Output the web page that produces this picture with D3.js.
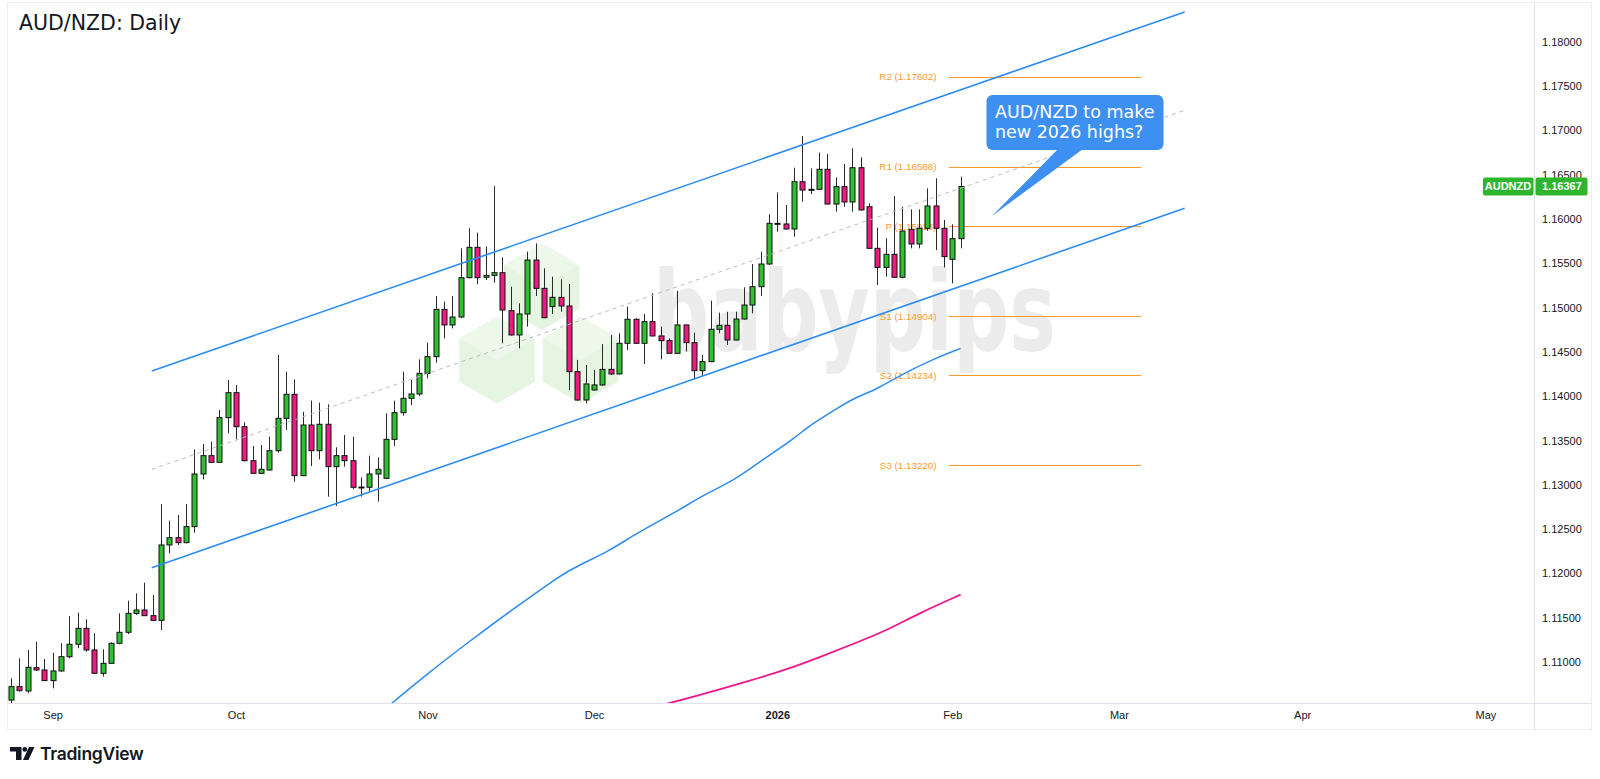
<!DOCTYPE html>
<html><head><meta charset="utf-8">
<script src="https://cdn.jsdelivr.net/npm/d3@7/dist/d3.min.js"></script>
<style>html,body{margin:0;padding:0;background:#fff;} svg{display:block;}</style>
</head><body>
<svg id="chart" width="1600" height="779"></svg>
<script>
// ---------------- DATA ----------------
const title = "AUD/NZD: Daily";
const symbol = "AUDNZD";
const lastPrice = 1.16367;

const opens = [1.10570,1.10722,1.10673,1.10936,1.10910,1.10790,1.10899,1.11060,1.11200,1.11380,
1.11136,1.10872,1.10985,1.11211,1.11335,1.11549,1.11587,1.11523,1.11470,1.12321,
1.12403,1.12347,1.12528,1.13122,1.13329,1.13254,1.13758,1.14040,1.13656,1.13272,
1.13129,1.13167,1.13385,1.13750,1.14021,1.13103,1.13675,1.13385,1.13683,1.13205,
1.13329,1.13272,1.12975,1.12972,1.13122,1.13073,1.13513,1.13814,1.13976,1.14025,
1.14258,1.14446,1.14980,1.14804,1.14894,1.15338,1.15680,1.15342,1.15364,1.15394,
1.14965,1.14691,1.14928,1.15537,1.15217,1.15011,1.15116,1.15018,1.14277,1.13957,
1.14070,1.14127,1.14303,1.14251,1.14597,1.14868,1.14597,1.14841,1.14680,1.14627,
1.14484,1.14804,1.14604,1.14288,1.14390,1.14755,1.14800,1.14634,1.14871,1.15029,
1.15236,1.15492,1.15951,1.15944,1.15887,1.16421,1.16335,1.16335,1.16561,1.16169,
1.16365,1.16192,1.16579,1.16139,1.15669,1.15454,1.15601,1.15342,1.15883,1.15718,
1.15895,1.16147,1.15895,1.15545,1.15778];
const highs = [1.10816,1.11042,1.11135,1.11230,1.11034,1.11106,1.11211,1.11519,1.11557,1.11482,
1.11324,1.11144,1.11222,1.11549,1.11692,1.11775,1.11896,1.11756,1.12783,1.12595,
1.12659,1.12783,1.13400,1.13461,1.13487,1.13844,1.14183,1.14127,1.13705,1.13438,
1.13449,1.13543,1.14465,1.14277,1.14190,1.13825,1.13950,1.13927,1.13908,1.13423,
1.13562,1.13543,1.13084,1.13329,1.13310,1.13807,1.13950,1.14277,1.14183,1.14416,
1.14604,1.15131,1.15067,1.15131,1.15669,1.15895,1.15846,1.15688,1.16372,1.15567,
1.15236,1.15048,1.15631,1.15725,1.15443,1.15349,1.15319,1.15266,1.14409,1.14352,
1.14296,1.14589,1.14691,1.14710,1.15011,1.14879,1.14928,1.15161,1.14785,1.14653,
1.15191,1.14810,1.14717,1.14465,1.15078,1.14943,1.14954,1.14954,1.15229,1.15492,
1.15631,1.16053,1.16300,1.16158,1.16579,1.16937,1.16572,1.16749,1.16734,1.16470,
1.16621,1.16798,1.16696,1.16177,1.15902,1.15782,1.16260,1.16139,1.16109,1.16109,
1.16346,1.16459,1.15989,1.15940,1.16478];
const lows = [1.10500,1.10665,1.10647,1.10899,1.10786,1.10703,1.10890,1.11042,1.11155,1.11117,
1.10865,1.10835,1.10980,1.11200,1.11316,1.11531,1.11519,1.11465,1.11361,1.12227,
1.12321,1.12340,1.12460,1.13062,1.13250,1.13250,1.13581,1.13513,1.13265,1.13125,
1.13125,1.13160,1.13363,1.13619,1.13035,1.13100,1.13212,1.13287,1.12866,1.12761,
1.13205,1.12949,1.12866,1.12923,1.12810,1.13070,1.13438,1.13780,1.13900,1.14000,
1.14202,1.14379,1.14653,1.14766,1.14880,1.15330,1.15263,1.15312,1.15281,1.14597,
1.14685,1.14540,1.14785,1.15131,1.14880,1.14928,1.14954,1.14070,1.13950,1.13920,
1.14063,1.14115,1.14239,1.14245,1.14521,1.14590,1.14364,1.14675,1.14416,1.14480,
1.14480,1.14503,1.14190,1.14228,1.14385,1.14710,1.14578,1.14630,1.14865,1.14935,
1.15131,1.15481,1.15857,1.15880,1.15801,1.16196,1.16282,1.16330,1.16165,1.16083,
1.16139,1.16083,1.16095,1.15660,1.15255,1.15349,1.15335,1.15330,1.15669,1.15669,
1.15868,1.15650,1.15454,1.15274,1.15669];
const closes = [1.10722,1.10677,1.10940,1.10910,1.10790,1.10899,1.11060,1.11200,1.11380,1.11136,
1.10872,1.10985,1.11211,1.11335,1.11549,1.11587,1.11523,1.11470,1.12321,1.12403,
1.12347,1.12528,1.13122,1.13329,1.13254,1.13758,1.14040,1.13656,1.13272,1.13129,
1.13175,1.13385,1.13750,1.14021,1.13103,1.13675,1.13385,1.13683,1.13205,1.13329,
1.13272,1.12972,1.12970,1.13122,1.13175,1.13513,1.13814,1.13976,1.14025,1.14258,
1.14446,1.14980,1.14804,1.14894,1.15338,1.15680,1.15338,1.15364,1.15394,1.14973,
1.14691,1.14928,1.15537,1.15217,1.14886,1.15116,1.15018,1.14277,1.13957,1.14138,
1.14127,1.14303,1.14251,1.14597,1.14868,1.14597,1.14841,1.14680,1.14627,1.14484,
1.14804,1.14604,1.14288,1.14390,1.14755,1.14800,1.14634,1.14871,1.15029,1.15236,
1.15492,1.15951,1.15948,1.15887,1.16421,1.16327,1.16330,1.16561,1.16169,1.16365,
1.16192,1.16579,1.16102,1.15669,1.15454,1.15601,1.15342,1.15864,1.15718,1.15895,
1.16147,1.15895,1.15575,1.15778,1.16367];

const monthLabels = ["Sep","Oct","Nov","Dec","2026","Feb","Mar","Apr","May"];
const monthBars   = [5, 27, 50, 70, 92, 113, 133, 155, 177];
const priceTicks  = [1.110,1.115,1.120,1.125,1.130,1.135,1.140,1.145,1.150,1.155,1.160,1.165,1.170,1.175,1.180];

const pivotNames  = ["R2","R1","P","S1","S2","S3"];
const pivotValues = [1.17602,1.16588,1.15918,1.14904,1.14234,1.13220];
const pivotSpan   = [112.6, 135.7];

const channelUpper = [[16.9, 1.14284],[140.9, 1.18336]];
const channelLower = [[16.9, 1.12064],[140.9, 1.16121]];
const channelMid   = [[16.9, 1.13174],[140.9, 1.17227]];

const ma100Bars   = [44, 50, 55, 60, 65, 67, 72, 75, 80, 83, 87, 90, 94, 96, 99, 101, 104, 107, 111, 114];
const ma100Values = [1.1040,1.1087,1.1123,1.1158,1.1191,1.1204,1.1226,1.1245,1.1270,1.1288,1.1306,1.1327,1.1352,1.1368,1.1385,1.1397,1.1408,1.1425,1.1443,1.1454];
const ma200Bars   = [78, 84, 88, 93, 97, 101, 105, 109, 114];
const ma200Values = [1.1051,1.1066,1.1077,1.1091,1.1105,1.1120,1.1135,1.1155,1.1176];

const calloutLines = ["AUD/NZD to make", "new 2026 highs?"];

// ---------------- CHART ----------------
const svg = d3.select("#chart");
const W = 1600, H = 779;
const plot = {left: 7, top: 3, right: 1534, bottom: 703};

const x = d3.scaleLinear().domain([0, 182.8]).range([11, 1533.7]);
const y = d3.scaleLinear().domain([1.11, 1.18]).range([662.0, 41.8]);

svg.append("rect").attr("width", W).attr("height", H).attr("fill", "#ffffff");

svg.append("defs").append("clipPath").attr("id", "plotClip")
  .append("rect").attr("x", plot.left).attr("y", plot.top)
  .attr("width", plot.right - plot.left).attr("height", plot.bottom - plot.top);

// frame
svg.append("rect").attr("x", 7.5).attr("y", 2.5).attr("width", 1584).attr("height", 727)
  .attr("fill", "none").attr("stroke", "#eceef2").attr("stroke-width", 1);
svg.append("line").attr("x1", 7).attr("x2", 1592).attr("y1", 703.5).attr("y2", 703.5)
  .attr("stroke", "#e0e3eb");
svg.append("line").attr("x1", 1534.5).attr("x2", 1534.5).attr("y1", 2).attr("y2", 730)
  .attr("stroke", "#e0e3eb");

const g = svg.append("g").attr("clip-path", "url(#plotClip)");

// watermark (decorative)
const wm = g.append("g");
const hexR = 43.5;
function hexPts(cx, cy, r) {
  return d3.range(6).map(k => {
    const a = (Math.PI / 180) * (-90 + 60 * k);
    return [cx + r * Math.cos(a), cy + r * Math.sin(a)];
  });
}
[[541.7, 286.7], [497, 360], [580.5, 360]].forEach(([cx, cy]) => {
  const p = hexPts(cx, cy, hexR);
  wm.append("polygon").attr("points", p.map(d => d.join(",")).join(" "))
    .attr("fill", "#e6f5e2");
  wm.append("polygon").attr("points", [[cx, cy], p[5], p[0], p[1]].map(d => d.join(",")).join(" "))
    .attr("fill", "#edf8ea");
});
wm.append("text").attr("x", 653).attr("y", 350).text("babypips")
  .attr("font-family", "DejaVu Sans").attr("font-weight", "bold").attr("font-size", 110)
  .attr("textLength", 403).attr("lengthAdjust", "spacingAndGlyphs")
  .attr("fill", "#ececec");

// pivots
const pivG = g.append("g");
pivotValues.forEach((v, i) => {
  pivG.append("line").attr("x1", x(pivotSpan[0])).attr("x2", x(pivotSpan[1]))
    .attr("y1", Math.round(y(v)) + 0.5).attr("y2", Math.round(y(v)) + 0.5)
    .attr("stroke", "#fb9c30").attr("stroke-width", 1);
  pivG.append("text").attr("x", 936.5).attr("y", y(v)).attr("dy", "0.35em")
    .attr("text-anchor", "end").attr("font-family", "Liberation Sans").attr("font-size", 9.8)
    .attr("fill", "#f99a2c").text(`${pivotNames[i]} (${v.toFixed(5)})`);
});

// candles
const candles = opens.map((o, i) => ({i, o, h: highs[i], l: lows[i], c: closes[i]}));
const cg = g.append("g");
cg.selectAll("line.wick").data(candles).join("line").attr("class", "wick")
  .attr("x1", d => Math.round(x(d.i)) + 0.5).attr("x2", d => Math.round(x(d.i)) + 0.5)
  .attr("y1", d => y(d.h)).attr("y2", d => y(d.l))
  .attr("stroke", "#2a2a2a").attr("stroke-width", 1);
cg.selectAll("rect.body").data(candles).join("rect").attr("class", "body")
  .attr("x", d => Math.round(x(d.i)) - 2)
  .attr("width", 5)
  .attr("y", d => y(Math.max(d.o, d.c)))
  .attr("height", d => Math.max(1, Math.abs(y(d.o) - y(d.c))))
  .attr("fill", d => d.c >= d.o ? "#2fbf2f" : "#ef1a7f")
  .attr("stroke", "#111").attr("stroke-width", 1);

// channel
const lineGen = d3.line().x(d => x(d[0])).y(d => y(d[1]));
g.append("path").datum(channelUpper).attr("d", lineGen).attr("fill", "none")
  .attr("stroke", "#2d8cf0").attr("stroke-width", 1.6);
g.append("path").datum(channelLower).attr("d", lineGen).attr("fill", "none")
  .attr("stroke", "#2d8cf0").attr("stroke-width", 1.6);
g.append("path").datum(channelMid).attr("d", lineGen).attr("fill", "none")
  .attr("stroke", "#b8bcc4").attr("stroke-width", 1).attr("stroke-dasharray", "4,4");

// moving averages
const maLine = d3.line().x(d => x(d[0])).y(d => y(d[1])).curve(d3.curveBasis);
g.append("path").datum(ma100Bars.map((b, i) => [b, ma100Values[i]])).attr("d", maLine)
  .attr("fill", "none").attr("stroke", "#2d8cf0").attr("stroke-width", 1.5);
g.append("path").datum(ma200Bars.map((b, i) => [b, ma200Values[i]])).attr("d", maLine)
  .attr("fill", "none").attr("stroke", "#f2168a").attr("stroke-width", 1.8);

// callout
const co = svg.append("g");
co.append("path").attr("d", "M1058,149 L1083,149 L992,216 Z").attr("fill", "#3d8ff2");
co.append("rect").attr("x", 986.5).attr("y", 95).attr("width", 177).attr("height", 55)
  .attr("rx", 6).attr("fill", "#3d8ff2");
calloutLines.forEach((t, i) => {
  co.append("text").attr("x", 995).attr("y", 118.3 + i * 19.5).text(t)
    .attr("font-family", "DejaVu Sans").attr("font-size", 17.5).attr("fill", "#ffffff");
});

// title
svg.append("text").attr("x", 19).attr("y", 30).text(title)
  .attr("font-family", "DejaVu Sans").attr("font-size", 20.5).attr("fill", "#131722");

// price axis
const yAxis = d3.axisRight(y).tickValues(priceTicks).tickFormat(d3.format(".5f"))
  .tickSize(0).tickPadding(8);
const ya = svg.append("g").attr("transform", "translate(1534,0)").call(yAxis);
ya.select(".domain").remove();
ya.selectAll("text").attr("font-family", "Liberation Sans").attr("font-size", 11).attr("fill", "#131722");

// x axis
const xAxis = d3.axisBottom(x).tickValues(monthBars).tickFormat((d, i) => monthLabels[i])
  .tickSize(0).tickPadding(8);
const xa = svg.append("g").attr("transform", "translate(0,703)").call(xAxis);
xa.select(".domain").remove();
xa.selectAll("text").attr("font-family", "Liberation Sans").attr("font-size", 11).attr("fill", "#131722")
  .attr("font-weight", (d, i) => monthLabels[i] === "2026" ? "bold" : "normal");
xa.selectAll(".tick").filter(d => x(d) > 1534).remove();

// last price label
const ly = y(lastPrice);
const lp = svg.append("g");
lp.append("rect").attr("x", 1483).attr("y", ly - 9).attr("width", 50.5).attr("height", 18)
  .attr("rx", 2).attr("fill", "#2eb52e");
lp.append("rect").attr("x", 1535.5).attr("y", ly - 9).attr("width", 52).attr("height", 18)
  .attr("rx", 2).attr("fill", "#2eb52e");
lp.append("text").attr("x", 1508).attr("y", ly).attr("dy", "0.36em").attr("text-anchor", "middle")
  .attr("font-family", "Liberation Sans").attr("font-weight", "bold").attr("font-size", 11)
  .attr("fill", "#fff").text(symbol);
lp.append("text").attr("x", 1542).attr("y", ly).attr("dy", "0.36em")
  .attr("font-family", "Liberation Sans").attr("font-weight", "bold").attr("font-size", 11)
  .attr("fill", "#fff").text(lastPrice.toFixed(5));

// TradingView logo
const tv = svg.append("g");
tv.append("path").attr("d", "M10,747 H21.5 V760 H16 V751.5 H10 Z").attr("fill", "#131722");
tv.append("circle").attr("cx", 24.8).attr("cy", 749.4).attr("r", 2.4).attr("fill", "#131722");
tv.append("path").attr("d", "M29,747 H34.5 L28.5,760 H23 Z").attr("fill", "#131722");
tv.append("text").attr("x", 40).attr("y", 760).text("TradingView")
  .attr("font-family", "Inter").attr("font-weight", 600).attr("font-size", 17.5)
  .attr("letter-spacing", "-0.3").attr("fill", "#131722");
</script>
</body></html>
